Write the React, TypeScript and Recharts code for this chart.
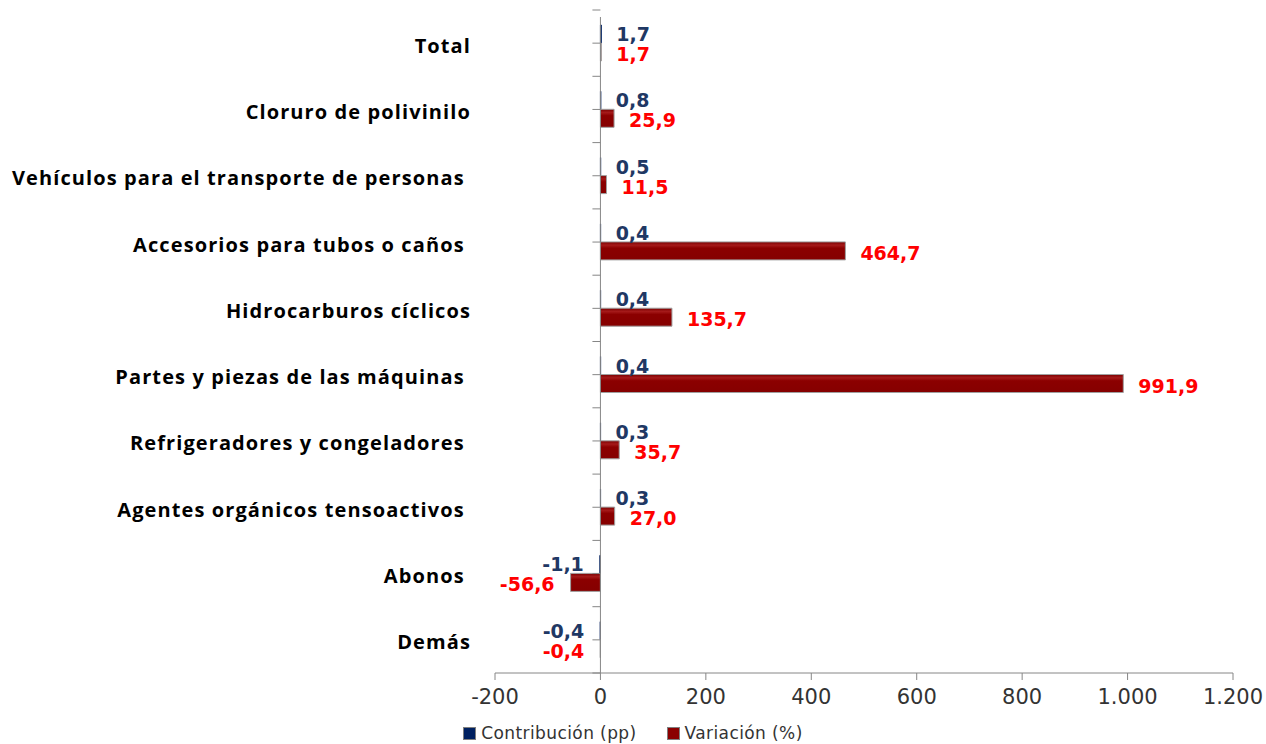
import { Bar, BarChart, LabelList, Legend, ReferenceLine, XAxis, YAxis } from 'recharts';

const categories = [
  'Total',
  'Cloruro de polivinilo',
  'Vehículos para el transporte de personas ',
  'Accesorios para tubos o caños ',
  'Hidrocarburos cíclicos',
  'Partes y piezas de las máquinas ',
  'Refrigeradores y congeladores ',
  'Agentes orgánicos tensoactivos ',
  'Abonos ',
  'Demás',
];
const contribucion = [1.7, 0.8, 0.5, 0.4, 0.4, 0.4, 0.3, 0.3, -1.1, -0.4];
const variacion = [1.7, 25.9, 11.5, 464.7, 135.7, 991.9, 35.7, 27.0, -56.6, -0.4];
const xTicks = [-200, 0, 200, 400, 600, 800, 1000, 1200];

const data = categories.map((name, i) => ({
  name,
  contribucion: contribucion[i],
  variacion: variacion[i],
}));

const BLUE = '#002060';
const BLUE_TEXT = '#1F3864';
const RED = '#8B0000';
const RED_TEXT = '#FF0000';
const AXIS = '#868686';

const fmtTick = (v: number) => {
  const s = Math.abs(v).toString();
  const g = s.length > 3 ? s.slice(0, s.length - 3) + '.' + s.slice(-3) : s;
  return (v < 0 ? '-' : '') + g;
};
const fmtVal = (v: number) => v.toFixed(1).replace('.', ',');

function CategoryTick({ x, y, payload }: any) {
  return (
    <text
      x={x - 24}
      y={y + 2}
      textAnchor="end"
      dominantBaseline="central"
      xmlSpace="preserve"
      style={{ whiteSpace: 'pre', letterSpacing: '1.1px' }}
      fontFamily="'Open Sans', sans-serif"
      fontWeight={700}
      fontSize={20}
      fill="#000"
    >
      {payload.value}
    </text>
  );
}

function makeLabel(color: string, shift: number) {
  return (props: any) => {
    const { x, y, width, height, value } = props;
    const a = Number(x);
    const b = Number(x) + Number(width);
    const cy = Number(y) + Number(height) / 2 + shift;
    const pos = value >= 0;
    const end = pos ? Math.max(a, b) : Math.min(a, b);
    return (
      <text
        x={pos ? end + 15 : end - 16}
        y={cy}
        textAnchor={pos ? 'start' : 'end'}
        dominantBaseline="central"
        fontFamily="'DejaVu Sans', sans-serif"
        fontWeight={700}
        fontSize={19}
        fill={color}
      >
        {fmtVal(value)}
      </text>
    );
  };
}

// vertical axis crossing at zero, with ticks at category centres and edges
function ZeroAxis(props: any) {
  const { x1, y1, y2 } = props;
  const steps = categories.length * 2;
  const marks = [];
  for (let i = 0; i <= steps; i++) {
    const y = y1 + ((y2 - y1) * i) / steps;
    marks.push(<line key={i} x1={x1 - 8} x2={x1} y1={y} y2={y} stroke={AXIS} strokeWidth={1} />);
  }
  return (
    <g>
      <line x1={x1} x2={x1} y1={y1} y2={y2 + 7} stroke={AXIS} strokeWidth={1} />
      {marks}
    </g>
  );
}

function LegendContent() {
  const items = [
    { label: 'Contribución (pp)', color: BLUE },
    { label: 'Variación (%)', color: RED },
  ];
  return (
    <div
      style={{
        display: 'flex',
        justifyContent: 'center',
        gap: 30,
        fontFamily: "'DejaVu Sans', sans-serif",
        fontSize: 17,
        letterSpacing: '0.4px',
        color: '#333',
        lineHeight: '22px',
        paddingLeft: 0,
      }}
    >
      {items.map((it) => (
        <span key={it.label} style={{ display: 'flex', alignItems: 'center' }}>
          <span
            style={{
              width: 11,
              height: 11,
              background: it.color,
              border: '1px solid #7f7f7f',
              marginRight: 5,
              display: 'inline-block',
            }}
          />
          {it.label}
        </span>
      ))}
    </div>
  );
}

export default function App() {
  return (
    <div style={{ position: 'absolute', left: 0, top: 0, background: '#fff' }}>
      <BarChart
        width={1266}
        height={744}
        data={data}
        layout="vertical"
        margin={{ top: 10, right: 33, left: 0, bottom: 0 }}
        barSize={18}
        barGap={0}
      >
        <defs>
          <linearGradient id="redBevel" x1="0" y1="0" x2="0" y2="1">
            <stop offset="0%" stopColor="#7a0000" />
            <stop offset="18%" stopColor="#a51a1a" />
            <stop offset="35%" stopColor="#8B0000" />
            <stop offset="100%" stopColor="#850000" />
          </linearGradient>
        </defs>
        <XAxis
          type="number"
          domain={[-200, 1200]}
          ticks={xTicks}
          tickFormatter={fmtTick}
          height={49}
          tickSize={7}
          tickMargin={9}
          axisLine={{ stroke: AXIS }}
          tickLine={{ stroke: AXIS }}
          tick={{ fill: '#333', fontSize: 21, fontFamily: "'DejaVu Sans', sans-serif" }}
        />
        <YAxis
          type="category"
          dataKey="name"
          width={495}
          axisLine={false}
          tickLine={false}
          tickSize={0}
          tickMargin={0}
          interval={0}
          tick={<CategoryTick />}
        />
        <ReferenceLine x={0} shape={<ZeroAxis />} />
        <Legend
          verticalAlign="bottom"
          height={22}
          content={<LegendContent />}
          wrapperStyle={{ left: 0, width: 1266, bottom: 0 }}
        />
        <Bar
          dataKey="contribucion"
          name="Contribución (pp)"
          fill={BLUE}
          stroke={BLUE}
          strokeWidth={1}
          isAnimationActive={false}
        >
          <LabelList dataKey="contribucion" content={makeLabel(BLUE_TEXT, 0)} />
        </Bar>
        <Bar
          dataKey="variacion"
          name="Variación (%)"
          fill="url(#redBevel)"
          stroke="#a0a0a0"
          strokeWidth={1}
          isAnimationActive={false}
        >
          <LabelList dataKey="variacion" content={makeLabel(RED_TEXT, 2)} />
        </Bar>
      </BarChart>
    </div>
  );
}
